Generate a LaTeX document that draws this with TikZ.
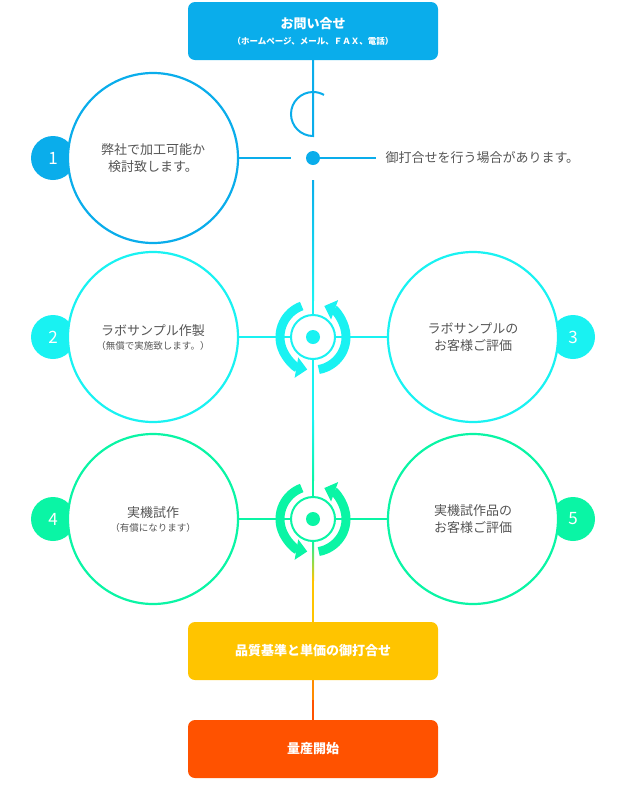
\documentclass[tikz,border=0pt]{standalone}
\usepackage{fontspec}
\setmainfont{Noto Sans CJK JP}
\usetikzlibrary{arrows.meta}
\definecolor{cb}{HTML}{0AADEB}
\definecolor{cc}{HTML}{19F2F2}
\definecolor{cg}{HTML}{0AF5A5}
\definecolor{cy}{HTML}{FFC400}
\definecolor{co}{HTML}{FF5200}
\definecolor{tx}{HTML}{555555}
\tikzset{
 big/.style={circle,draw=#1,line width=2.2pt,fill=white,minimum size=170pt,inner sep=0pt,align=center,text=tx,font=\fontsize{13}{17}\selectfont},
 num/.style={circle,fill=#1,minimum size=44pt,inner sep=0pt,text=white,font=\fontsize{17}{17}\selectfont},
 box/.style={rounded corners=7pt,fill=#1,minimum width=250pt,minimum height=58pt,text=white,align=center,font=\bfseries\fontsize{13}{17}\selectfont},
 ln/.style={draw=#1,line width=2pt},
}
\newcommand{\cyc}[3]{%
 \draw[#2,line width=9pt,-{Triangle[width=20pt,length=11pt]}] ($(#1)+(250:33)$) arc[start angle=250,end angle=100,radius=33];
 \draw[#2,line width=9pt,-{Triangle[width=20pt,length=11pt]}] ($(#1)+(80:33)$) arc[start angle=80,end angle=-70,radius=33];
 \node[circle,draw=#2,line width=2pt,fill=white,minimum size=44pt] (#3) at (#1) {};
 \fill[#2] (#1) circle (7);
}
\usetikzlibrary{calc}
\begin{document}
\begin{tikzpicture}[x=1pt,y=-1pt]
\useasboundingbox (0,0) rectangle (627,793);
% main vertical line
\shade[top color=cb,bottom color=cc] (312,180) rectangle (314,300);
\fill[cc] (312,300) rectangle (314,420);
\shade[top color=cc,bottom color=cg] (312,420) rectangle (314,480);
\fill[cg] (312,480) rectangle (314,540);
\shade[top color=cg,bottom color=cy] (312,540) rectangle (314,580);
\fill[cy] (312,580) rectangle (314,622);
\fill[co] (312,680) rectangle (314,720);
\fill[cy!50!co] (312,680) rectangle (314,700);
% top
\node[box=cb] (top) at (313,31) {お問い合せ\\[-1pt]{\fontsize{8.5}{10}\selectfont （ホームページ、メール、ＦＡＸ、電話）}};
\coordinate (hub1) at (313,158);
\draw[ln=cb] (top.south) -- (313,136) arc[start angle=90,end angle=300,radius=22];
\fill[cb] (hub1) circle (7);
\coordinate (rt) at (376,158);
\draw[ln=cb] (hub1) -- (rt);
\node[anchor=west,text=tx,font=\fontsize{13}{15}\selectfont] (note) at (382,158) {御打合せを行う場合があります。};
\node[num=cb] (n1) at (53,158) {1};
\node[big=cb] (c1) at (153,158) {弊社で加工可能か\\検討致します。};
\draw[ln=cb] (c1.east) -- (291,158);
% row 2
\draw[ln=cc] (238,337) -- (388,337);
\node[num=cc] (n2) at (53,337) {2};
\node[num=cc] (n3) at (573,337) {3};
\node[big=cc] (c2) at (153,337) {ラボサンプル作製\\[-3pt]{\fontsize{9.5}{12}\selectfont （無償で実施致します。）}};
\node[big=cc] (c3) at (473,337) {ラボサンプルの\\お客様ご評価};
\cyc{313,337}{cc}{hub2}
% row 3
\draw[ln=cg] (238,519) -- (388,519);
\node[num=cg] (n4) at (53,519) {4};
\node[num=cg] (n5) at (573,519) {5};
\node[big=cg] (c4) at (153,519) {実機試作\\[-3pt]{\fontsize{9.5}{12}\selectfont （有償になります）}};
\node[big=cg] (c5) at (473,519) {実機試作品の\\お客様ご評価};
\cyc{313,519}{cg}{hub3}
% bottom boxes
\node[box=cy] (b1) at (313,651) {品質基準と単価の御打合せ};
\node[box=co] (b2) at (313,749) {量産開始};
\end{tikzpicture}
\end{document}
